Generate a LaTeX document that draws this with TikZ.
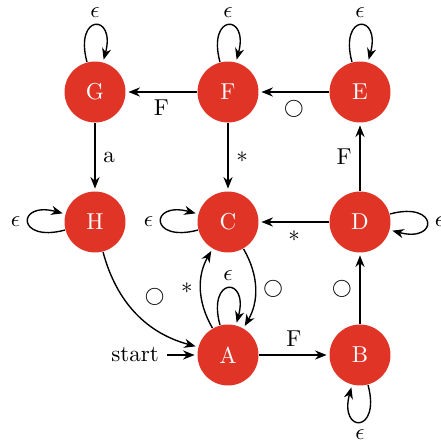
\documentclass[tikz,border=0pt]{standalone}
\usetikzlibrary{automata,arrows.meta,positioning}
\definecolor{nodered}{RGB}{224,52,39}
\begin{document}
\begin{tikzpicture}[x=0.4348pt,y=0.4348pt,
  >={Stealth[length=5pt,width=4pt]}, semithick, auto, shorten >=1pt,
  every state/.style={draw=none, fill=nodered, text=white, minimum size=26.5pt, inner sep=0pt},
  circlabel/.style={font=\footnotesize}]
\useasboundingbox (0,0) rectangle (441,447);
\node[state] (G) at (95,355) {G};
\node[state] (F) at (228,355) {F};
\node[state] (E) at (360,355) {E};
\node[state] (H) at (95,225) {H};
\node[state] (C) at (228,225) {C};
\node[state] (D) at (360,225) {D};
\node[state, initial, initial text=start] (A) at (228,92) {A};
\node[state] (B) at (360,92) {B};
\path[->]
  (G) edge[loop above] node {$\epsilon$} ()
  (F) edge[loop above] node {$\epsilon$} ()
  (E) edge[loop above] node {$\epsilon$} ()
  (F) edge node {F} (G)
  (E) edge node[circlabel] {$\bigcirc$} (F)
  (G) edge node {a} (H)
  (F) edge node {$*$} (C)
  (D) edge node {F} (E)
  (D) edge node {$*$} (C)
  (H) edge[loop left] node {$\epsilon$} ()
  (C) edge[loop left] node {$\epsilon$} ()
  (D) edge[loop right] node {$\epsilon$} ()
  (H) edge[bend right] node[circlabel] {$\bigcirc$} (A)
  (A) edge[bend left] node {$*$} (C)
  (C) edge[bend left] node[circlabel] {$\bigcirc$} (A)
  (A) edge[loop above] node {$\epsilon$} ()
  (B) edge node[circlabel] {$\bigcirc$} (D)
  (A) edge node {F} (B)
  (B) edge[loop below] node {$\epsilon$} ();
\end{tikzpicture}
\end{document}
